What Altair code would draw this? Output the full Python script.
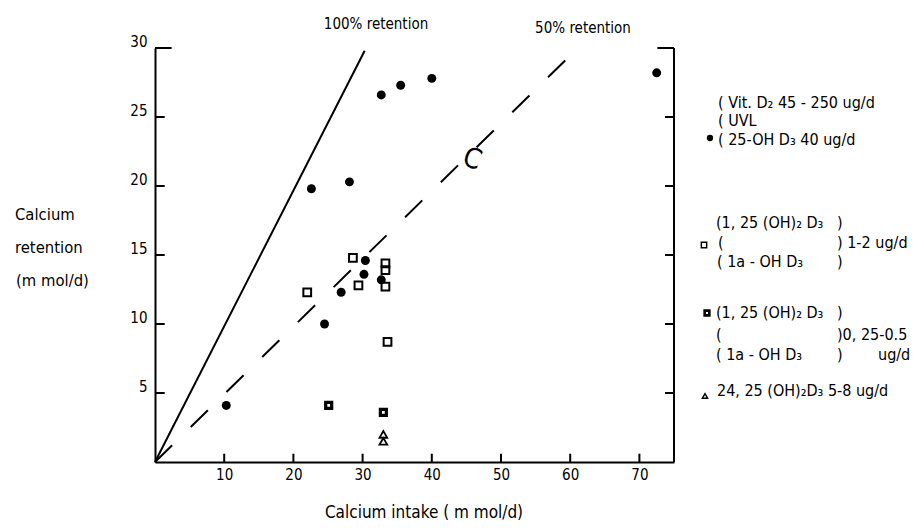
import altair as alt
import pandas as pd

# ---------------- data ----------------
circle_x = [10.3, 24.5, 26.9, 30.2, 30.4, 32.7, 22.6, 28.1, 32.7, 35.5, 40.0, 72.5]
circle_y = [4.1, 10.0, 12.3, 13.6, 14.6, 13.2, 19.8, 20.3, 26.6, 27.3, 27.8, 28.2]

open_sq_x = [28.6, 33.3, 33.3, 29.4, 33.3, 22.0, 33.6]
open_sq_y = [14.8, 14.4, 13.9, 12.8, 12.7, 12.3, 8.7]

dark_sq_x = [25.1, 33.0]
dark_sq_y = [4.1, 3.6]

tri_x = [33.0, 33.0]
tri_y = [2.0, 1.5]

line100_x = [0, 30.3]
line100_y = [0, 29.8]
line50_x = [0, 60.3]
line50_y = [0, 29.6]

x_ticks = [10, 20, 30, 40, 50, 60, 70]
y_ticks = [5, 10, 15, 20, 25, 30]
x_max = 75
y_max = 30

legend_texts = [
    "( Vit. D\u2082 45 - 250 ug/d", "( UVL", "( 25-OH D\u2083 40 ug/d",
    "(1, 25 (OH)\u2082 D\u2083", ")",
    "(", ") 1-2 ug/d",
    "( 1a - OH D\u2083", ")",
    "(1, 25 (OH)\u2082 D\u2083", ")",
    "(", ")0, 25-0.5",
    "( 1a - OH D\u2083", ")", "ug/d",
    "24, 25 (OH)\u2082D\u2083 5-8 ug/d",
]
title_texts = ["100% retention", "50% retention"]
xlabel_text = "Calcium intake ( m mol/d)"
ylabel_lines = ["Calcium", "retention", "(m mol/d)"]

# ---------------- layout (page pixels) ----------------
W, H = 519, 414
OX, OY = 147, 40  # padding -> plot origin at page (155, 48)
legend_pos = [
    (718, 103), (718, 121), (718, 140),
    (716, 223), (837, 223),
    (718, 243), (837, 243),
    (717, 262), (837, 262),
    (716, 313), (837, 313),
    (716, 335), (837, 335),
    (716, 355), (837, 355), (878, 355),
    (717, 391),
]
title_pos = [(376, 24), (583, 28)]
xlabel_pos = (424, 513)
ylabel_pos = [(15, 215), (15, 248), (16, 281)]

FONT = "Liberation Sans Narrow, DejaVu Sans Condensed, Liberation Sans, sans-serif"

xs = alt.Scale(domain=[0, x_max], nice=False, zero=False)
ys = alt.Scale(domain=[0, y_max], nice=False, zero=False)

X_AX = alt.Axis(values=x_ticks, ticks=False, grid=False, title=None,
                domainColor="black", domainWidth=2, labelFont=FONT, labelFontSize=15,
                labelColor="black", labelPadding=5, labelFlush=False)
Y_AX = alt.Axis(values=y_ticks, ticks=False, grid=False, title=None,
                domainColor="black", domainWidth=2, labelFont=FONT, labelFontSize=15,
                labelColor="black", labelPadding=8, labelOffset=-7, labelFlush=False)

XE = alt.X("x:Q", scale=xs, axis=X_AX)
YE = alt.Y("y:Q", scale=ys, axis=Y_AX)


def pts(xv, yv):
    return pd.DataFrame({"x": xv, "y": yv})


circles = alt.Chart(pts(circle_x, circle_y)).mark_point(
    shape="circle", filled=True, color="black", size=80, opacity=1
).encode(x=XE, y=YE)

open_sq = alt.Chart(pts(open_sq_x, open_sq_y)).mark_point(
    shape="square", filled=False, color="black", size=60, strokeWidth=2, opacity=1
).encode(x=XE, y=YE)

dark_sq = alt.Chart(pts(dark_sq_x, dark_sq_y)).mark_point(
    shape="square", filled=False, color="black", size=36, strokeWidth=3.2, opacity=1
).encode(x=XE, y=YE)

tris = alt.Chart(pts(tri_x, tri_y)).mark_point(
    shape="triangle-up", filled=False, color="black", size=60, strokeWidth=1.8, opacity=1
).encode(x=XE, y=YE)

l100 = alt.Chart(pts(line100_x, line100_y)).mark_line(
    color="black", strokeWidth=2
).encode(x=XE, y=YE)

l50 = alt.Chart(pts(line50_x, line50_y)).mark_line(
    color="black", strokeWidth=2, strokeDash=[24, 26]
).encode(x=XE, y=YE)

# frame pieces: right edge, top stubs, inward ticks
rules = [
    {"x": x_max, "x2": x_max, "y": 0, "y2": y_max},
    {"x": 0, "x2": 2.4, "y": y_max, "y2": y_max},
    {"x": x_max - 2.4, "x2": x_max, "y": y_max, "y2": y_max},
]
for v in y_ticks[:-1]:
    rules.append({"x": 0, "x2": 1.4, "y": v, "y2": v})
    rules.append({"x": x_max - 1.3, "x2": x_max, "y": v, "y2": v})
for v in x_ticks:
    rules.append({"x": v, "x2": v, "y": 0, "y2": 0.6})
frame_rules = alt.Chart(pd.DataFrame(rules)).mark_rule(color="black", strokeWidth=2).encode(
    x=XE, x2="x2:Q", y=YE, y2="y2:Q",
)

# little hand-drawn "C" on the 50% line
cmark = alt.Chart(pd.DataFrame({"x": [45.8], "y": [21.9], "t": ["C"]})).mark_text(
    font=FONT, fontSize=28, color="black", angle=20, fontWeight="lighter"
).encode(x=XE, y=YE, text="t:N")

ONE = pd.DataFrame({"a": [0]})


def txt(t, p, align="left", size=15):
    return alt.Chart(ONE).mark_text(
        font=FONT, fontSize=size, color="black", align=align, baseline="middle"
    ).encode(
        x=alt.value(p[0] - 8 - OX), y=alt.value(p[1] - 8 - OY), text=alt.value(t)
    )


def marker(p, **kw):
    return alt.Chart(ONE).mark_point(color="black", opacity=1, **kw).encode(
        x=alt.value(p[0] - 8 - OX), y=alt.value(p[1] - 8 - OY)
    )


texts = [txt(t, p, size=16) for t, p in zip(legend_texts, legend_pos)]
texts += [txt(t, p, "center") for t, p in zip(title_texts, title_pos)]
texts += [txt(xlabel_text, xlabel_pos, "center", 17)]
texts += [txt(t, p, size=16.5) for t, p in zip(ylabel_lines, ylabel_pos)]

markers = [
    marker((710, 138), shape="circle", filled=True, size=40),
    marker((704, 245), shape="square", filled=False, size=28, strokeWidth=1.5),
    marker((707, 313), shape="square", filled=False, size=22, strokeWidth=2.6),
    marker((705, 396), shape="triangle-up", filled=False, size=28, strokeWidth=1.4),
]

chart = alt.layer(
    circles, l100, l50, frame_rules, open_sq, dark_sq, tris, cmark, *texts, *markers
).properties(
    width=W, height=H,
    autosize=alt.AutoSizeParams(type="none"),
    padding={"left": OX, "top": OY, "right": 903 - OX - W, "bottom": 515 - OY - H},
    background="white",
).configure_view(stroke=None)

chart.save("out.html", embed_options={"renderer": "svg", "actions": False})
